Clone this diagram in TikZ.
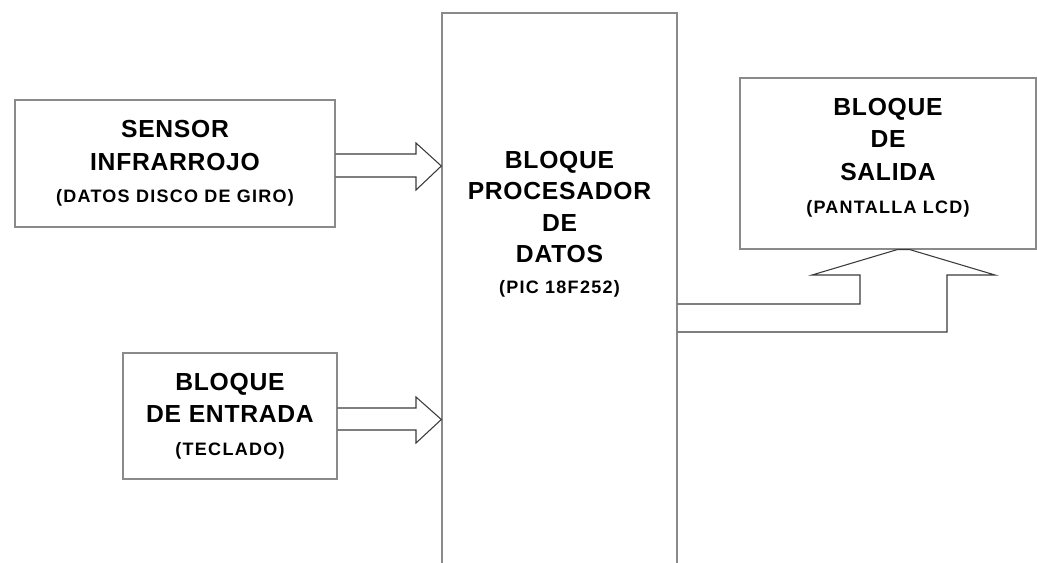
\documentclass[tikz,border=0pt]{standalone}
\usepackage{fontspec}
\setmainfont{Liberation Sans}
\definecolor{borde}{HTML}{8A8A8A}
\definecolor{trazo}{HTML}{3A3A3A}
\newcommand\titulo{\fontsize{18.5}{24.5}\selectfont\bfseries\addfontfeature{LetterSpace=3}}
\newcommand\subtitulo{\fontsize{13.5}{24.5}\selectfont\bfseries\addfontfeature{LetterSpace=7}}

\begin{document}
\begin{tikzpicture}[x=0.75pt,y=-0.75pt,
  bloque/.style={draw=borde, line width=1pt, align=center, inner sep=0pt, font=\titulo},
  texto/.style={align=center, inner sep=0pt, font=\titulo},
  flecha/.style={draw=trazo, line width=0.8pt, line join=miter}]

  \useasboundingbox (0,0) rectangle (1037,563);

  % bloques
	\node[bloque, minimum width=240pt, minimum height=95.25pt] (sensor) at (175,163.5)
		{SENSOR\\ INFRARROJO\\ \subtitulo (DATOS DISCO DE GIRO)};
	\node[bloque, minimum width=160.5pt, minimum height=94.5pt] (entrada) at (230,416)
		{BLOQUE\\ DE ENTRADA\\ \subtitulo (TECLADO)};
	\node[bloque, minimum width=176.25pt, minimum height=440.25pt] (proc) at (559.5,306.5) {};
	\node[texto, font=\titulo\fontsize{18.5}{23.5}\selectfont] (proctxt) at (559.5,224.5)
		{BLOQUE\\ PROCESADOR\\ DE\\ DATOS\\ \subtitulo (PIC 18F252)};
	\node[bloque, minimum width=222pt, minimum height=128.25pt] (salida) at (888,163.5) {};
	\node[texto] (salidatxt) at (888,157.5)
		{BLOQUE\\ DE\\ SALIDA\\ \subtitulo (PANTALLA LCD)};

  % flechas de entrada
	\draw[flecha] (sensor.east |- 0,154) -- (416,154) -- (416,143) -- (proc.west |- 0,166)
		-- (416,190) -- (416,177) -- (sensor.east |- 0,177);
	\draw[flecha] (entrada.east |- 0,408) -- (416,408) -- (416,397) -- (proc.west |- 0,419.5)
		-- (416,443) -- (416,430) -- (entrada.east |- 0,430);

  % flecha de salida
	\draw[flecha] (proc.east |- 0,304) -- (860,304) -- (860,275) -- (812,275) -- (897,0 |- salida.south)
		-- (910,0 |- salida.south) -- (995,275) -- (947,275) -- (947,332) -- (proc.east |- 0,332);

\end{tikzpicture}
\end{document}
